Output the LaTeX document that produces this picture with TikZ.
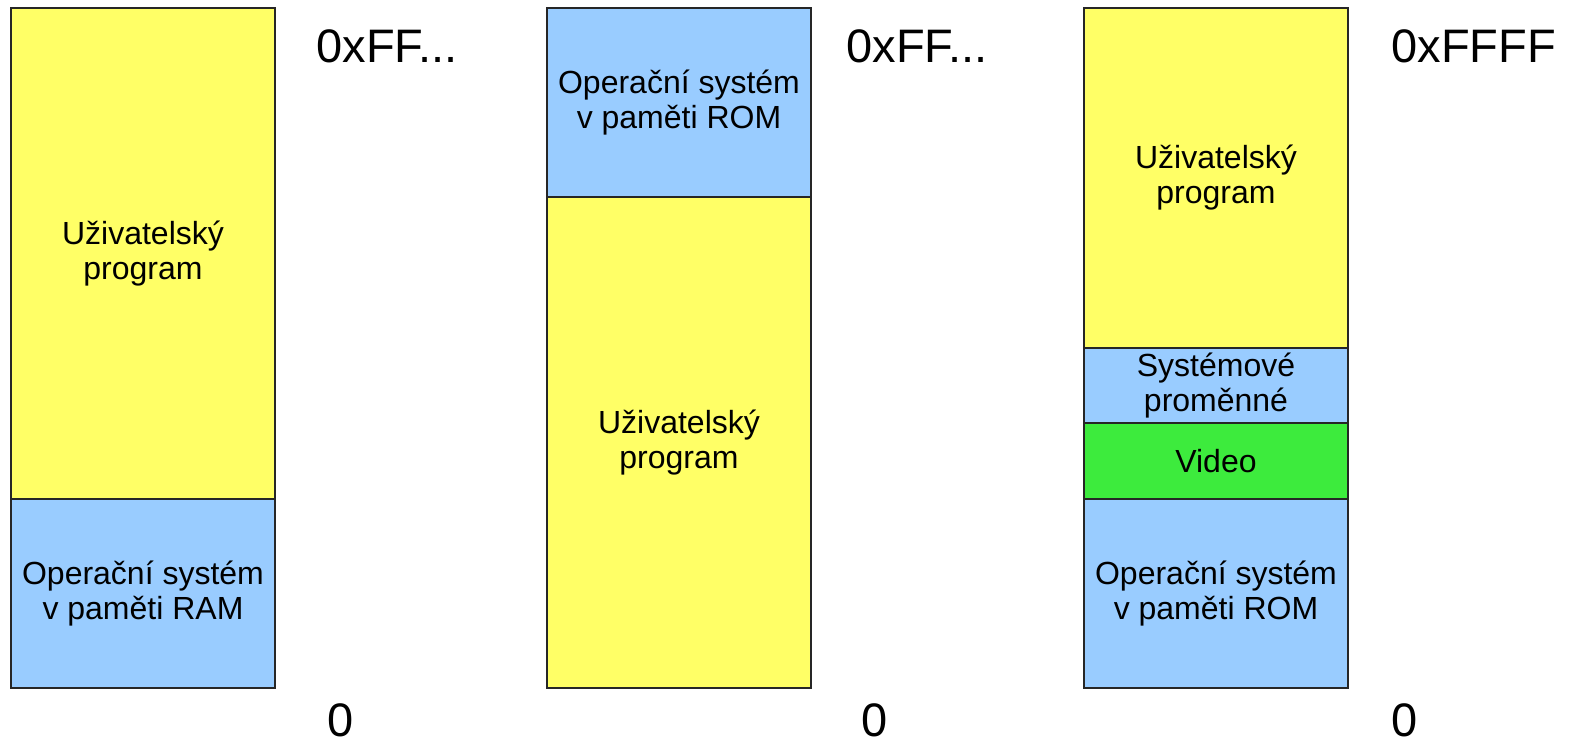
\documentclass[tikz,border=0pt]{standalone}
\usepackage{fontspec}
\setmainfont{Liberation Sans}
\usepackage{xcolor}
\definecolor{userYellow}{HTML}{FFFF66}
\definecolor{osBlue}{HTML}{99CCFF}
\definecolor{videoGreen}{HTML}{3DEB3D}
\tikzset{
  region/.style={draw=black!85, line width=0.6pt, inner sep=0pt, outer sep=0pt,
    minimum width=132pt, align=center, font=\fontsize{16}{17.5}\selectfont},
  addr/.style={inner sep=0pt, anchor=base west, font=\fontsize{23.5}{26}\selectfont}
}
\begin{document}
\begin{tikzpicture}[x=0.5pt,y=0.5pt,yscale=-1,xscale=1]
\useasboundingbox (0,0) rectangle (1576,744);

%Shape: first map, OS in RAM
\node [region, fill=userYellow, minimum height=245.5pt] (userA) at (143,253.5) {Uživatelský\\program};
\node [region, fill=osBlue, minimum height=94.5pt] (osA) at (143,593.5) {Operační systém\\ v paměti RAM};

%Shape: second map, OS in ROM on top
\node [region, fill=osBlue, minimum height=94.5pt] (osB) at (679,102.5) {Operační systém\\v paměti ROM};
\node [region, fill=userYellow, minimum height=245.5pt] (userB) at (679,442.5) {Uživatelský\\program};

%Shape: third map, with video memory
\node [region, fill=userYellow, minimum height=170pt] (userC) at (1216,178) {Uživatelský\\program};
\node [region, fill=osBlue, minimum height=37.5pt] (varsC) at (1216,385.5) {Systémové\\proměnné};
\node [region, fill=videoGreen, minimum height=38pt] (videoC) at (1216,461) {Video};
\node [region, fill=osBlue, minimum height=94.5pt] (osC) at (1216,593.5) {Operační systém\\v paměti ROM};

% Text Node
\node [addr] (topA) at (316,62) {0xFF...};
\node [addr] (botA) at (327,736) {0};
% Text Node
\node [addr] (topB) at (846,62) {0xFF...};
\node [addr] (botB) at (861,736) {0};
% Text Node
\node [addr] (topC) at (1391,62) {0xFFFF};
\node [addr] (botC) at (1391,736) {0};
\end{tikzpicture}
\end{document}
